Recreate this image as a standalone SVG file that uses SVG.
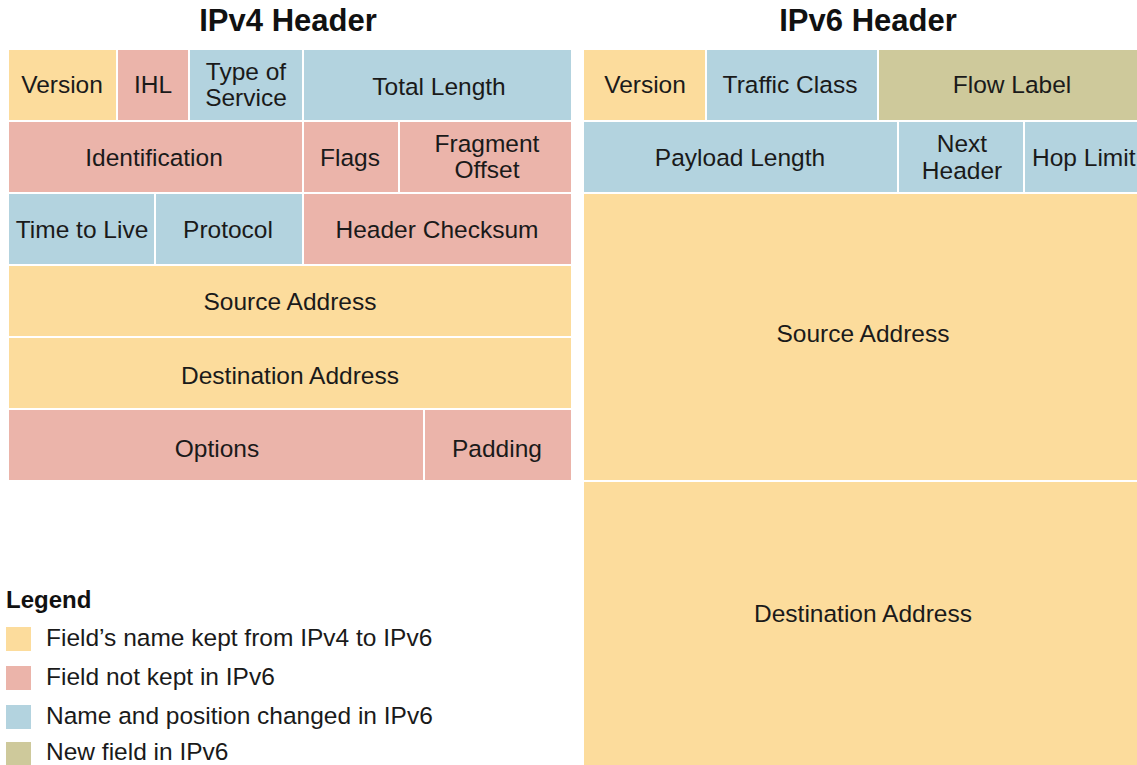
<svg xmlns="http://www.w3.org/2000/svg" width="1137" height="765" viewBox="0 0 1137 765">
<style>
.y{fill:#FCDC9C}.p{fill:#EBB4AA}.b{fill:#B3D3DF}.o{fill:#CEC99B}
text{font-family:"Liberation Sans",Arial,sans-serif;font-size:24.5px;fill:#1a1a1a;text-anchor:middle}
.t{font-size:31px;font-weight:bold;fill:#111}
.lg{text-anchor:start}
.lh{font-size:24px;font-weight:bold;text-anchor:start;fill:#111}
</style>
<rect width="1137" height="765" fill="#fff"/>
<text class="t" x="288" y="31">IPv4 Header</text>
<text class="t" x="868" y="31">IPv6 Header</text>
<g id="ipv4">
<g id="v4-version"><rect class="y" x="9" y="50" width="107" height="70"/><text x="62" y="93">Version</text></g>
<g id="v4-ihl"><rect class="p" x="118" y="50" width="70" height="70"/><text x="153" y="93">IHL</text></g>
<g id="v4-tos"><rect class="b" x="190" y="50" width="112" height="70"/><text x="246" y="80">Type of</text><text x="246" y="106">Service</text></g>
<g id="v4-totlen"><rect class="b" x="304" y="50" width="267" height="70"/><text x="439" y="95">Total Length</text></g>
<g id="v4-ident"><rect class="p" x="9" y="122" width="293" height="70"/><text x="154" y="166">Identification</text></g>
<g id="v4-flags"><rect class="p" x="304" y="122" width="94" height="70"/><text x="350" y="166">Flags</text></g>
<g id="v4-frag"><rect class="p" x="400" y="122" width="171" height="70"/><text x="487" y="152">Fragment</text><text x="487" y="178">Offset</text></g>
<g id="v4-ttl"><rect class="b" x="9" y="194" width="145" height="70"/><text x="82" y="238">Time to Live</text></g>
<g id="v4-proto"><rect class="b" x="156" y="194" width="146" height="70"/><text x="228" y="238">Protocol</text></g>
<g id="v4-cksum"><rect class="p" x="304" y="194" width="267" height="70"/><text x="437" y="238">Header Checksum</text></g>
<g id="v4-src"><rect class="y" x="9" y="266" width="562" height="70"/><text x="290" y="310">Source Address</text></g>
<g id="v4-dst"><rect class="y" x="9" y="338" width="562" height="70"/><text x="290" y="384">Destination Address</text></g>
<g id="v4-opts"><rect class="p" x="9" y="410" width="414" height="70"/><text x="217" y="457">Options</text></g>
<g id="v4-pad"><rect class="p" x="425" y="410" width="146" height="70"/><text x="497" y="457">Padding</text></g>
</g>
<g id="ipv6">
<g id="v6-version"><rect class="y" x="584" y="50" width="121" height="70"/><text x="645" y="93">Version</text></g>
<g id="v6-tc"><rect class="b" x="707" y="50" width="170" height="70"/><text x="790" y="93">Traffic Class</text></g>
<g id="v6-flow"><rect class="o" x="879" y="50" width="270" height="70"/><text x="1012" y="93">Flow Label</text></g>
<g id="v6-plen"><rect class="b" x="584" y="122" width="313" height="70"/><text x="740" y="166">Payload Length</text></g>
<g id="v6-nh"><rect class="b" x="899" y="122" width="124" height="70"/><text x="962" y="152">Next</text><text x="962" y="179">Header</text></g>
<g id="v6-hop"><rect class="b" x="1025" y="122" width="124" height="70"/><text class="lg" x="1032" y="166">Hop Limit</text></g>
<g id="v6-src"><rect class="y" x="584" y="194" width="565" height="286"/><text x="863" y="342">Source Address</text></g>
<g id="v6-dst"><rect class="y" x="584" y="482" width="565" height="290"/><text x="863" y="622">Destination Address</text></g>
</g>
<g id="legend">
<text class="lh" x="6" y="608">Legend</text>
<rect class="y" x="6" y="627" width="25" height="24"/><text class="lg" x="46" y="646">Field’s name kept from IPv4 to IPv6</text>
<rect class="p" x="6" y="666" width="25" height="24"/><text class="lg" x="46" y="685">Field not kept in IPv6</text>
<rect class="b" x="6" y="705" width="25" height="24"/><text class="lg" x="46" y="724">Name and position changed in IPv6</text>
<rect class="o" x="6" y="742" width="25" height="24"/><text class="lg" x="46" y="760">New field in IPv6</text>
</g>
<g id="connectors"/>
</svg>
